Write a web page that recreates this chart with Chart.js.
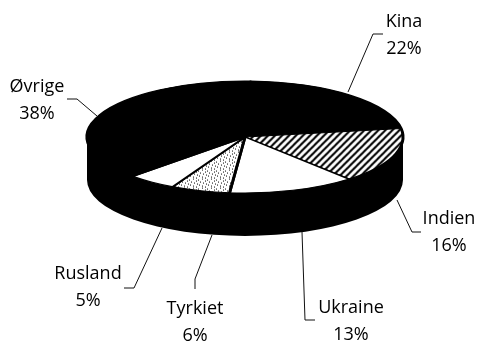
<!DOCTYPE html>
<html>
<head>
<meta charset="utf-8">
<script src="https://cdn.jsdelivr.net/npm/chart.js@4"></script>
<style>
  html, body { margin: 0; padding: 0; background: #fff; }
  #wrap { width: 478px; height: 341px; }
</style>
</head>
<body>
<div id="wrap"><canvas id="myChart" width="478" height="341"></canvas></div>
<script>
// DATA
const labels = ['Kina', 'Indien', 'Ukraine', 'Tyrkiet', 'Rusland', 'Øvrige'];
const values = [22, 16, 13, 6, 5, 38];

// LABEL PLACEMENT (same order as labels)
const labelPos = [[404, 22], [449, 219], [351, 308], [195, 309], [88, 274], [37, 87]];
const leaders = [
    [[348, 92], [373, 34], [383, 34]],
    [[397, 200], [412, 232], [421, 232]],
    [[302, 232], [305, 320], [315, 320]],
    [[212, 235], [195, 279], [195, 289]],
    [[162, 228], [134, 288], [124, 288]],
    [[97, 116], [77, 99], [67, 99]]
];

const squash = 0.354;
const depth = 43;

// PATTERNS
function hatch() {
    const c = document.createElement('canvas');
    c.width = 7; c.height = 7;
    const g = c.getContext('2d');
    g.fillStyle = '#fff';
    g.fillRect(0, 0, 7, 7);
    g.strokeStyle = '#000';
    g.lineWidth = 2;
    g.beginPath();
    g.moveTo(-1, 1); g.lineTo(1, -1);
    g.moveTo(-1, 8); g.lineTo(8, -1);
    g.moveTo(6, 8); g.lineTo(8, 6);
    g.stroke();
    const p = g.createPattern(c, 'repeat');
    p.setTransform(new DOMMatrix().scale(1, 1 / squash));
    return p;
}

function stipple() {
    const c = document.createElement('canvas');
    c.width = 9; c.height = 9;
    const g = c.getContext('2d');
    g.fillStyle = '#fff';
    g.fillRect(0, 0, 9, 9);
    g.fillStyle = '#000';
    [[0, 1], [4, 0], [7, 2], [2, 3], [5, 4], [8, 5], [1, 6], [4, 7], [7, 8]].forEach(function (d) {
        g.fillRect(d[0], d[1], 1, 1);
    });
    const p = g.createPattern(c, 'repeat');
    p.setTransform(new DOMMatrix().scale(1, 1 / squash));
    return p;
}

// flatten the pie and put the black side under it
const tiltPlugin = {
    id: 'tilt',
    beforeDatasetsDraw(chart) {
        const arc = chart.getDatasetMeta(0).data[0];
        const ctx = chart.ctx;
        const ry = arc.outerRadius * squash;
        ctx.save();
        ctx.fillStyle = '#000';
        ctx.beginPath();
        ctx.ellipse(arc.x, arc.y, arc.outerRadius, ry, 0, 0, Math.PI * 2);
        ctx.ellipse(arc.x, arc.y + depth, arc.outerRadius, ry, 0, 0, Math.PI * 2);
        ctx.rect(arc.x - arc.outerRadius, arc.y, arc.outerRadius * 2, depth);
        ctx.fill('nonzero');
        ctx.restore();

        ctx.save();
        ctx.translate(arc.x, arc.y);
        ctx.scale(1, squash);
        ctx.translate(-arc.x, -arc.y);
    },
    afterDatasetsDraw(chart) {
        chart.ctx.restore();
    }
};

// leader lines and texts
const labelPlugin = {
    id: 'pieLabels',
    afterDraw(chart) {
        const ctx = chart.ctx;
        ctx.save();
        ctx.strokeStyle = '#111';
        ctx.lineWidth = 1;
        leaders.forEach(function (line) {
            ctx.beginPath();
            line.forEach(function (p, i) {
                if (i === 0) ctx.moveTo(p[0], p[1]);
                else ctx.lineTo(p[0], p[1]);
            });
            ctx.stroke();
        });
        ctx.fillStyle = '#000';
        ctx.font = '18px "Open Sans"';
        ctx.textAlign = 'center';
        ctx.textBaseline = 'middle';
        labels.forEach(function (name, i) {
            ctx.fillText(name, labelPos[i][0], labelPos[i][1]);
            ctx.fillText(values[i] + '%', labelPos[i][0], labelPos[i][1] + 27);
        });
        ctx.restore();
    }
};

const ctx = document.getElementById('myChart');

const myChart = new Chart(ctx, {
    type: 'pie',
    data: {
        labels: labels,
        datasets: [{
            data: values,
            backgroundColor: ['#000', hatch(), '#fff', stipple(), '#fff', '#000'],
            borderColor: '#000',
            borderWidth: 3
        }]
    },
    options: {
        responsive: false,
        animation: false,
        radius: 158,
        rotation: 2,
        layout: { padding: { left: 12, bottom: 67 } },
        plugins: {
            legend: { display: false },
            tooltip: { enabled: false }
        }
    },
    plugins: [tiltPlugin, labelPlugin]
});
</script>
</body>
</html>
